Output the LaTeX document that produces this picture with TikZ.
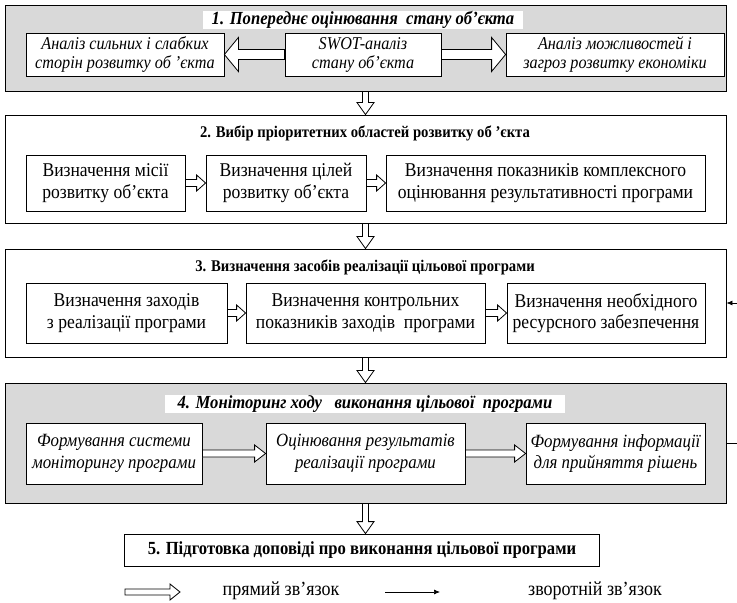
\documentclass[tikz,border=0pt]{standalone}
\usepackage{fontspec}
\setmainfont{Liberation Serif}[FakeStretch=0.9]
\usetikzlibrary{calc,arrows.meta}
\definecolor{panel}{RGB}{217,217,217}
\tikzset{
  stagebox/.style={draw, line width=0.9pt, inner sep=0pt},
  graystage/.style={stagebox, fill=panel},
  whitestage/.style={stagebox, fill=white},
  innerbox/.style={draw, fill=white, line width=0.8pt, align=center, inner sep=1pt,
    font=\fontsize{19.5}{21.5}\selectfont},
  itboxA/.style={innerbox, font=\fontsize{18}{19}\selectfont\itshape},
  itboxB/.style={innerbox, font=\fontsize{18.7}{21.5}\selectfont\itshape},
  titlebg/.style={fill=white, inner sep=0pt},
  titletext/.style={font=\fontsize{16.3}{18}\selectfont\bfseries},
  ittitle/.style={font=\fontsize{18.5}{19}\selectfont\bfseries\itshape},
  lasttitle/.style={font=\fontsize{18.5}{20}\selectfont\bfseries},
  hollow/.style={draw, fill=white, line width=0.8pt, line join=miter},
  fbline/.style={draw, line width=0.7pt},
  legtext/.style={font=\fontsize{20}{21}\selectfont},
}
\newcommand\arrR[5]{\path[hollow] let \p1=(#1), \p2=(#2) in
  (\x1,\y1+#3) -- (\x2-#5,\y1+#3) -- (\x2-#5,\y1+#4) -- (\x2,\y1) --
  (\x2-#5,\y1-#4) -- (\x2-#5,\y1-#3) -- (\x1,\y1-#3) -- cycle;}
\newcommand\arrL[5]{\path[hollow] let \p1=(#1), \p2=(#2) in
  (\x1,\y1+#3) -- (\x2+#5,\y1+#3) -- (\x2+#5,\y1+#4) -- (\x2,\y1) --
  (\x2+#5,\y1-#4) -- (\x2+#5,\y1-#3) -- (\x1,\y1-#3) -- cycle;}
\newcommand\arrD[5]{\path[hollow] let \p1=(#1), \p2=(#2) in
  (\x1-#3,\y1) -- (\x1-#3,\y2+#5) -- (\x1-#4,\y2+#5) -- (\x1,\y2) --
  (\x1+#4,\y2+#5) -- (\x1+#3,\y2+#5) -- (\x1+#3,\y1) -- cycle;}
\begin{document}
\begin{tikzpicture}[x=1pt,y=-1pt]
\useasboundingbox (0,0) rectangle (737,603);
% ---------- stage 1
\node[graystage, minimum width=721pt, minimum height=86pt] (s1) at (365.5,48) {};
\node[titlebg, ittitle, minimum width=320pt, minimum height=16pt] (t1) at (363,20)
  {1. Попереднє оцінювання\ \ стану об’єкта};
\node[itboxA, minimum width=198pt, minimum height=43pt] (a1) at (125,54.5)
  {Аналіз сильних і слабких\\сторін розвитку об ’єкта};
\node[itboxA, minimum width=156pt, minimum height=43pt] (a2) at (363,54.5)
  {SWOT-аналіз\\стану об’єкта};
\node[itboxA, minimum width=218pt, minimum height=43pt] (a3) at (615,54.5)
  {Аналіз можливостей і\\загроз розвитку економіки};
\arrL{a2.west}{a1.east}{5pt}{17pt}{14pt}
\arrR{a2.east}{a3.west}{5pt}{17pt}{14pt}
% ---------- stage 2
\node[whitestage, minimum width=721pt, minimum height=108pt] (s2) at (365.5,169) {};
\node[titletext] (t2) at (365,133) {2. Вибір пріоритетних областей розвитку об ’єкта};
\node[innerbox, minimum width=159pt, minimum height=56pt] (b1) at (105.5,183)
  {Визначення місії\\розвитку об’єкта};
\node[innerbox, minimum width=160pt, minimum height=56pt] (b2) at (286,183)
  {Визначення цілей\\розвитку об’єкта};
\node[innerbox, minimum width=319pt, minimum height=56pt] (b3) at (545.5,183)
  {Визначення показників комплексного\\оцінювання результативності програми};
\arrR{b1.east}{b2.west}{3.5pt}{8pt}{9pt}
\arrR{b2.east}{b3.west}{3.5pt}{8pt}{9pt}
% ---------- stage 3
\node[whitestage, minimum width=721pt, minimum height=108pt] (s3) at (365.5,303) {};
\node[titletext] (t3) at (365,267) {3. Визначення засобів реалізації цільової програми};
\node[innerbox, minimum width=201pt, minimum height=60pt] (c1) at (126.5,313)
  {Визначення заходів\\з реалізації програми};
\node[innerbox, minimum width=239pt, minimum height=60pt] (c2) at (365.5,313)
  {Визначення контрольних\\показників заходів\ \ програми};
\node[innerbox, minimum width=198pt, minimum height=60pt] (c3) at (606,313)
  {Визначення необхідного\\ресурсного забезпечення};
\arrR{c1.east}{c2.west}{3.5pt}{8pt}{9pt}
\arrR{c2.east}{c3.west}{3.5pt}{8pt}{9pt}
% ---------- stage 4
\node[graystage, minimum width=721pt, minimum height=120pt] (s4) at (365.5,443) {};
\node[titlebg, ittitle, minimum width=400pt, minimum height=18pt] (t4) at (365,404)
  {4. Моніторинг ходу\ \ \ виконання цільової\ \ програми};
\node[itboxB, minimum width=176pt, minimum height=61pt] (d1) at (114,453.5)
  {Формування системи\\моніторингу програми};
\node[itboxB, minimum width=199pt, minimum height=61pt] (d2) at (365.5,453.5)
  {Оцінювання результатів\\реалізації програми};
\node[itboxB, minimum width=179pt, minimum height=61pt] (d3) at (615.5,453.5)
  {Формування інформації\\для прийняття рішень};
\arrR{d1.east}{d2.west}{3.5pt}{8.5pt}{11pt}
\arrR{d2.east}{d3.west}{3.5pt}{8.5pt}{11pt}
% ---------- stage 5
\node[innerbox, lasttitle, minimum width=475pt, minimum height=32pt] (s5) at (362,550)
  {5. Підготовка доповіді про виконання цільової програми};
% ---------- stage connectors
\arrD{s1.south}{s2.north}{3pt}{8.5pt}{12pt}
\arrD{s2.south}{s3.north}{3pt}{8.5pt}{12pt}
\arrD{s3.south}{s4.north}{3pt}{8.5pt}{12pt}
\arrD{s4.south}{s5.north}{3pt}{8.5pt}{12pt}
% ---------- feedback
\coordinate (fb1) at (745,443);
\coordinate (fb2) at (745,303);
\draw[fbline, -{Latex[length=6pt,width=5pt]}] (s4.east) -- (fb1) -- (fb2) -- (s3.east);
% ---------- legend
\coordinate (lg1) at (125,592);
\coordinate (lg2) at (180,592);
\path[hollow] let \p1=(lg1), \p2=(lg2) in
  (\x1,\y1+3pt) -- (\x2-10pt,\y1+3pt) -- (\x2-10pt,\y1+8pt) -- (\x2,\y1) --
  (\x2-10pt,\y1-8pt) -- (\x2-10pt,\y1-3pt) -- (\x1,\y1-3pt) -- cycle;
\node[legtext] (lt1) at (281,591) {прямий зв’язок};
\coordinate (lg3) at (385,592);
\coordinate (lg4) at (440,592);
\draw[fbline, -{Latex[length=6pt,width=5pt]}] (lg3) -- (lg4);
\node[legtext] (lt2) at (595,591) {зворотній зв’язок};
\end{tikzpicture}
\end{document}
